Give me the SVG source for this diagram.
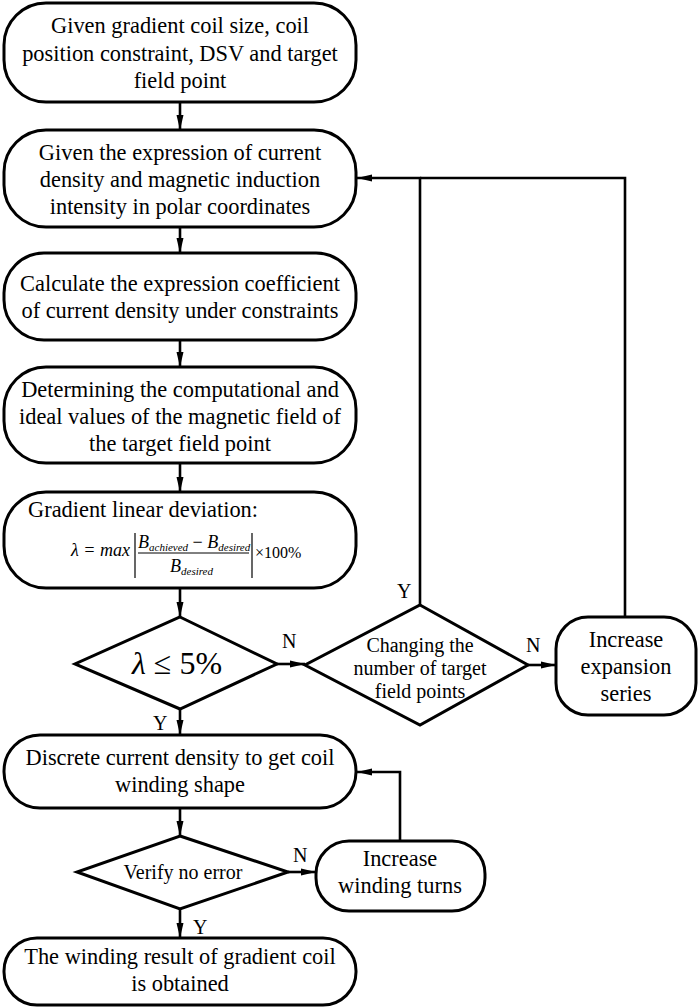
<svg xmlns="http://www.w3.org/2000/svg" width="699" height="1007" viewBox="0 0 699 1007" font-family="Liberation Serif, serif">
<style>
text{font-family:'Liberation Serif',serif}
.n{fill:#fff;stroke:#000;stroke-width:3}
.c{fill:none;stroke:#000;stroke-width:2.6}
.t{font-size:22.4px;fill:#000;text-anchor:middle}
.s{font-size:20px}
.l{font-size:20px;fill:#000}
.m{font-style:italic;fill:#000}
</style>
<defs>
<marker id="a" viewBox="0 0 15 8" refX="15" refY="4" markerWidth="15" markerHeight="8" markerUnits="userSpaceOnUse" orient="auto">
<path d="M0,0.5 L15,4 L0,7.5 Z" fill="#000"/>
</marker>
</defs>
<g id="connectors">
<line class="c" x1="180" y1="102" x2="180" y2="130" marker-end="url(#a)"/>
<line class="c" x1="180" y1="227" x2="180" y2="253" marker-end="url(#a)"/>
<line class="c" x1="180" y1="340" x2="180" y2="367" marker-end="url(#a)"/>
<line class="c" x1="180" y1="463" x2="180" y2="492" marker-end="url(#a)"/>
<line class="c" x1="180" y1="588" x2="180" y2="617" marker-end="url(#a)"/>
<line class="c" x1="277" y1="664" x2="305" y2="664" marker-end="url(#a)"/>
<line class="c" x1="528" y1="665" x2="556" y2="665" marker-end="url(#a)"/>
<polyline class="c" points="420,605 420,178 357,178" marker-end="url(#a)"/>
<polyline class="c" points="625,617 625,178 420,178"/>
<line class="c" x1="180" y1="709" x2="180" y2="735" marker-end="url(#a)"/>
<line class="c" x1="180" y1="808" x2="180" y2="836" marker-end="url(#a)"/>
<line class="c" x1="288" y1="872" x2="316" y2="872" marker-end="url(#a)"/>
<polyline class="c" points="400,841 400,772 357,772" marker-end="url(#a)"/>
<line class="c" x1="180" y1="909" x2="180" y2="938" marker-end="url(#a)"/>
<text class="l" x="282" y="648">N</text>
<text class="l" x="526" y="652">N</text>
<text class="l" x="397" y="598">Y</text>
<text class="l" x="153" y="730">Y</text>
<text class="l" x="293" y="862">N</text>
<text class="l" x="193" y="934">Y</text>
</g>
<g id="n1">
<rect class="n" x="4" y="3" width="352" height="99" rx="42"/>
<text class="t" x="180" y="33">Given gradient coil size, coil</text>
<text class="t" x="180" y="61">position constraint, DSV and target</text>
<text class="t" x="180" y="88">field point</text>
</g>
<g id="n2">
<rect class="n" x="4" y="130" width="352" height="97" rx="42"/>
<text class="t" x="180" y="160">Given the expression of current</text>
<text class="t" x="180" y="187">density and magnetic induction</text>
<text class="t" x="180" y="214">intensity in polar coordinates</text>
</g>
<g id="n3">
<rect class="n" x="4" y="253" width="352" height="87" rx="40"/>
<text class="t" x="180" y="291">Calculate the expression coefficient</text>
<text class="t" x="180" y="318">of current density under constraints</text>
</g>
<g id="n4">
<rect class="n" x="4" y="367" width="352" height="96" rx="42"/>
<text class="t" x="180" y="397">Determining the computational and</text>
<text class="t" x="180" y="424">ideal values of the magnetic field of</text>
<text class="t" x="180" y="451">the target field point</text>
</g>
<g id="n5">
<rect class="n" x="4" y="492" width="352" height="96" rx="42"/>
<text class="t" x="28" y="517" style="text-anchor:start">Gradient linear deviation:</text>
<text class="m" x="71" y="556" font-size="18">λ = max</text>
<line x1="135" y1="533" x2="135" y2="578" stroke="#000" stroke-width="1.2"/>
<text class="m" x="138" y="548" font-size="18">B<tspan font-size="11" dy="3">achieved</tspan><tspan dy="-3" font-style="normal"> − </tspan>B<tspan font-size="11" dy="3">desired</tspan></text>
<line x1="138" y1="553" x2="249" y2="553" stroke="#000" stroke-width="1"/>
<text class="m" x="170" y="572" font-size="18">B<tspan font-size="11" dy="3">desired</tspan></text>
<line x1="252" y1="533" x2="252" y2="578" stroke="#000" stroke-width="1.2"/>
<text x="255" y="558" font-size="16">×100%</text>
</g>
<g id="n6">
<polygon class="n" points="180,617 277,664 180,709 75,664"/>
<text x="177" y="674" font-size="32" text-anchor="middle"><tspan font-style="italic">λ</tspan> ≤ 5%</text>
</g>
<g id="n7">
<polygon class="n" points="420,605 528,665 420,725 305,665"/>
<text class="t s" x="420" y="652">Changing the</text>
<text class="t s" x="420" y="675">number of target</text>
<text class="t s" x="420" y="698">field points</text>
</g>
<g id="n8">
<rect class="n" x="556" y="617" width="140" height="98" rx="32"/>
<text class="t" x="626" y="647">Increase</text>
<text class="t" x="626" y="674">expansion</text>
<text class="t" x="626" y="701">series</text>
</g>
<g id="n9">
<rect class="n" x="4" y="735" width="352" height="73" rx="36"/>
<text class="t" x="180" y="765">Discrete current density to get coil</text>
<text class="t" x="180" y="792">winding shape</text>
</g>
<g id="n10">
<polygon class="n" points="180,836 288,872 180,909 77,872"/>
<text class="t s" x="183" y="879">Verify no error</text>
</g>
<g id="n11">
<rect class="n" x="316" y="841" width="169" height="70" rx="33"/>
<text class="t" x="400" y="866">Increase</text>
<text class="t" x="400" y="893">winding turns</text>
</g>
<g id="n12">
<rect class="n" x="4" y="938" width="352" height="67" rx="33"/>
<text class="t" x="180" y="964">The winding result of gradient coil</text>
<text class="t" x="180" y="991">is obtained</text>
</g>
</svg>
